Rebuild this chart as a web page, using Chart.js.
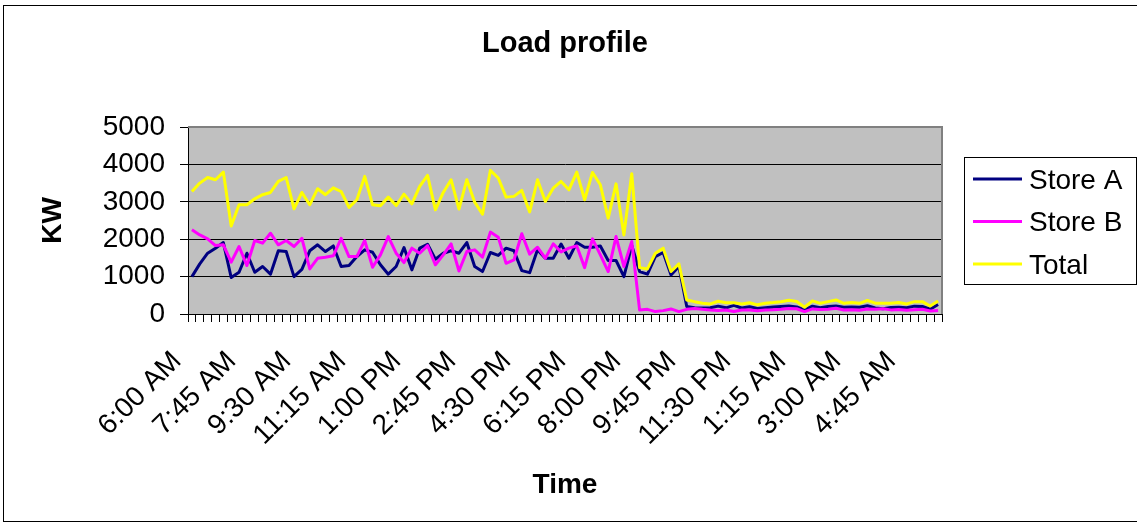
<!DOCTYPE html>
<html>
<head>
<meta charset="utf-8">
<script src="https://cdn.jsdelivr.net/npm/chart.js@4.4.1/dist/chart.umd.min.js"></script>
<style>
html,body{margin:0;padding:0;background:#fff;}
#wrap{width:1137px;height:527px;position:relative;}
canvas{display:block;}
</style>
</head>
<body>
<div id="wrap"><canvas id="c" width="1137" height="527"></canvas></div>
<script>
const categories = [
"6:00 AM","6:15 AM","6:30 AM","6:45 AM","7:00 AM","7:15 AM","7:30 AM","7:45 AM",
"8:00 AM","8:15 AM","8:30 AM","8:45 AM","9:00 AM","9:15 AM","9:30 AM","9:45 AM",
"10:00 AM","10:15 AM","10:30 AM","10:45 AM","11:00 AM","11:15 AM","11:30 AM","11:45 AM",
"12:00 PM","12:15 PM","12:30 PM","12:45 PM","1:00 PM","1:15 PM","1:30 PM","1:45 PM",
"2:00 PM","2:15 PM","2:30 PM","2:45 PM","3:00 PM","3:15 PM","3:30 PM","3:45 PM",
"4:00 PM","4:15 PM","4:30 PM","4:45 PM","5:00 PM","5:15 PM","5:30 PM","5:45 PM",
"6:00 PM","6:15 PM","6:30 PM","6:45 PM","7:00 PM","7:15 PM","7:30 PM","7:45 PM",
"8:00 PM","8:15 PM","8:30 PM","8:45 PM","9:00 PM","9:15 PM","9:30 PM","9:45 PM",
"10:00 PM","10:15 PM","10:30 PM","10:45 PM","11:00 PM","11:15 PM","11:30 PM","11:45 PM",
"12:00 AM","12:15 AM","12:30 AM","12:45 AM","1:00 AM","1:15 AM","1:30 AM","1:45 AM",
"2:00 AM","2:15 AM","2:30 AM","2:45 AM","3:00 AM","3:15 AM","3:30 AM","3:45 AM",
"4:00 AM","4:15 AM","4:30 AM","4:45 AM","5:00 AM","5:15 AM","5:30 AM","5:45 AM"
];
const tickLabels = ["6:00 AM","7:45 AM","9:30 AM","11:15 AM","1:00 PM","2:45 PM","4:30 PM","6:15 PM","8:00 PM","9:45 PM","11:30 PM","1:15 AM","3:00 AM","4:45 AM"];
const yTicks = [0, 1000, 2000, 3000, 4000, 5000];
const seriesNames = ["Store A", "Store B", "Total"];

const storeA = [
1000,1340,1625,1760,1910,975,1115,1625,1115,1270,1065,1690,1670,1000,1195,1690,
1850,1670,1820,1270,1295,1535,1715,1650,1315,1065,1270,1775,1180,1760,1865,1465,
1625,1690,1625,1910,1270,1135,1645,1565,1760,1690,1160,1105,1715,1490,1490,1870,
1490,1910,1785,1785,1820,1430,1430,1000,1830,1135,1065,1535,1645,1045,1270,200,
170,160,165,210,165,230,160,195,150,170,185,200,215,190,110,210,
165,200,215,180,185,180,220,160,140,175,180,165,210,200,130,255
];
const storeB = [
2250,2115,2010,1830,1850,1385,1805,1295,1965,1895,2160,1850,1965,1805,2025,1205,
1490,1520,1555,2025,1535,1535,1965,1250,1580,2070,1625,1375,1760,1625,1830,1315,
1580,1875,1150,1670,1715,1520,2190,2055,1355,1445,2145,1600,1785,1490,1875,1660,
1760,1820,1240,2010,1580,1135,2070,1270,1940,105,125,65,90,135,65,125,
150,125,105,95,105,65,105,105,90,110,115,125,150,140,65,135,
120,130,155,105,115,100,135,125,140,110,120,100,115,125,80,95
];
const total = [
3275,3500,3650,3590,3795,2355,2920,2920,3080,3190,3250,3545,3650,2810,3250,2920,
3350,3190,3375,3275,2850,3055,3680,2920,2895,3125,2900,3205,2945,3410,3705,2785,
3250,3590,2805,3590,2990,2670,3840,3635,3125,3145,3305,2730,3590,3010,3365,3545,
3320,3795,3055,3785,3455,2565,3480,2115,3750,1240,1205,1625,1760,1135,1340,375,
330,290,270,340,300,300,270,300,245,285,305,330,370,335,180,350,
285,330,375,285,305,285,360,290,285,290,305,270,330,330,215,350
];
const seriesColors = ["#000080", "#FF00FF", "#FFFF00"];

const FONT = "'Liberation Sans', Arial, sans-serif";

const plotBg = {
  id: 'plotBg',
  beforeDraw(chart) {
    const {ctx, chartArea: a} = chart;
    ctx.save();
    ctx.fillStyle = '#C0C0C0';
    ctx.fillRect(a.left, a.top, a.right - a.left, a.bottom - a.top);
    ctx.restore();
  },
  afterDraw(chart) {
    const {ctx, chartArea: a} = chart;
    ctx.save();
    ctx.strokeStyle = '#808080';
    ctx.lineWidth = 2;
    ctx.beginPath();
    ctx.moveTo(a.left, a.top);
    ctx.lineTo(a.right, a.top);
    ctx.lineTo(a.right, a.bottom);
    ctx.stroke();
    ctx.strokeStyle = '#000';
    ctx.lineWidth = 1;
    ctx.strokeRect(3.5, 5.5, 1140, 516);
    const lx = 964.5, ly = 157.5, lw = 172, lh = 127;
    ctx.fillStyle = '#fff';
    ctx.fillRect(lx, ly, lw, lh);
    ctx.strokeStyle = '#000';
    ctx.strokeRect(lx, ly, lw, lh);
    const ys = [179, 221.5, 264];
    ctx.font = '28px ' + FONT;
    ctx.textBaseline = 'middle';
    ctx.textAlign = 'left';
    chart.data.datasets.forEach((ds, i) => {
      ctx.strokeStyle = ds.borderColor;
      ctx.lineWidth = 3;
      ctx.beginPath();
      ctx.moveTo(973, ys[i]);
      ctx.lineTo(1022, ys[i]);
      ctx.stroke();
      ctx.fillStyle = '#000';
      ctx.fillText(ds.label, 1029, ys[i] + 2);
    });
    ctx.restore();
  }
};

new Chart(document.getElementById('c'), {
  type: 'line',
  data: {
    labels: categories,
    datasets: [
      {label: seriesNames[0], data: storeA, borderColor: seriesColors[0], order: 2},
      {label: seriesNames[1], data: storeB, borderColor: seriesColors[1], order: 1},
      {label: seriesNames[2], data: total, borderColor: seriesColors[2], order: 0}
    ]
  },
  options: {
    responsive: false,
    animation: false,
    devicePixelRatio: 1,
    layout: {padding: {top: 0, left: 0, right: 195, bottom: 0}},
    elements: {
      line: {borderWidth: 3, tension: 0, fill: false, borderJoinStyle: 'round'},
      point: {radius: 0, hoverRadius: 0}
    },
    plugins: {
      legend: {display: false},
      tooltip: {enabled: false},
      title: {
        display: true,
        text: 'Load profile',
        fullSize: false,
        color: '#000',
        font: {family: FONT, size: 29, weight: 'bold', lineHeight: 1.2},
        padding: {top: 27, bottom: 65.2}
      }
    },
    scales: {
      x: {
        type: 'category',
        offset: true,
        grid: {display: true, offset: true, drawOnChartArea: false, drawTicks: true, tickLength: 8, color: '#000', lineWidth: 1},
        border: {display: true, color: '#000', width: 1},
        ticks: {
          autoSkip: false,
          maxRotation: 45,
          minRotation: 45,
          padding: 23,
          labelOffset: -15,
          color: '#000',
          font: {family: FONT, size: 28, lineHeight: 1.2},
          callback(value, index) {
            const lab = categories[index];
            return tickLabels.includes(lab) ? lab : '';
          }
        },
        title: {
          display: true,
          text: 'Time',
          color: '#000',
          font: {family: FONT, size: 28, weight: 'bold', lineHeight: 1.2},
          padding: {top: 0, bottom: 25}
        },
        afterFit(scale) { scale.height = 213; }
      },
      y: {
        min: yTicks[0],
        max: yTicks[yTicks.length - 1],
        afterBuildTicks(scale) { scale.ticks = yTicks.map(v => ({value: v})); },
        grid: {color: '#000', lineWidth: 1, drawTicks: true, tickLength: 8},
        border: {display: true, color: '#000', width: 1},
        ticks: {
          padding: 15,
          color: '#000',
          font: {family: FONT, size: 28, lineHeight: 1.2},
          callback(value) { return String(value); }
        },
        title: {
          display: true,
          text: 'KW',
          color: '#000',
          font: {family: FONT, size: 28, weight: 'bold', lineHeight: 1.2},
          padding: {top: 36, bottom: 0}
        },
        afterFit(scale) { scale.width = 188; }
      }
    }
  },
  plugins: [plotBg]
});
</script>
</body>
</html>
